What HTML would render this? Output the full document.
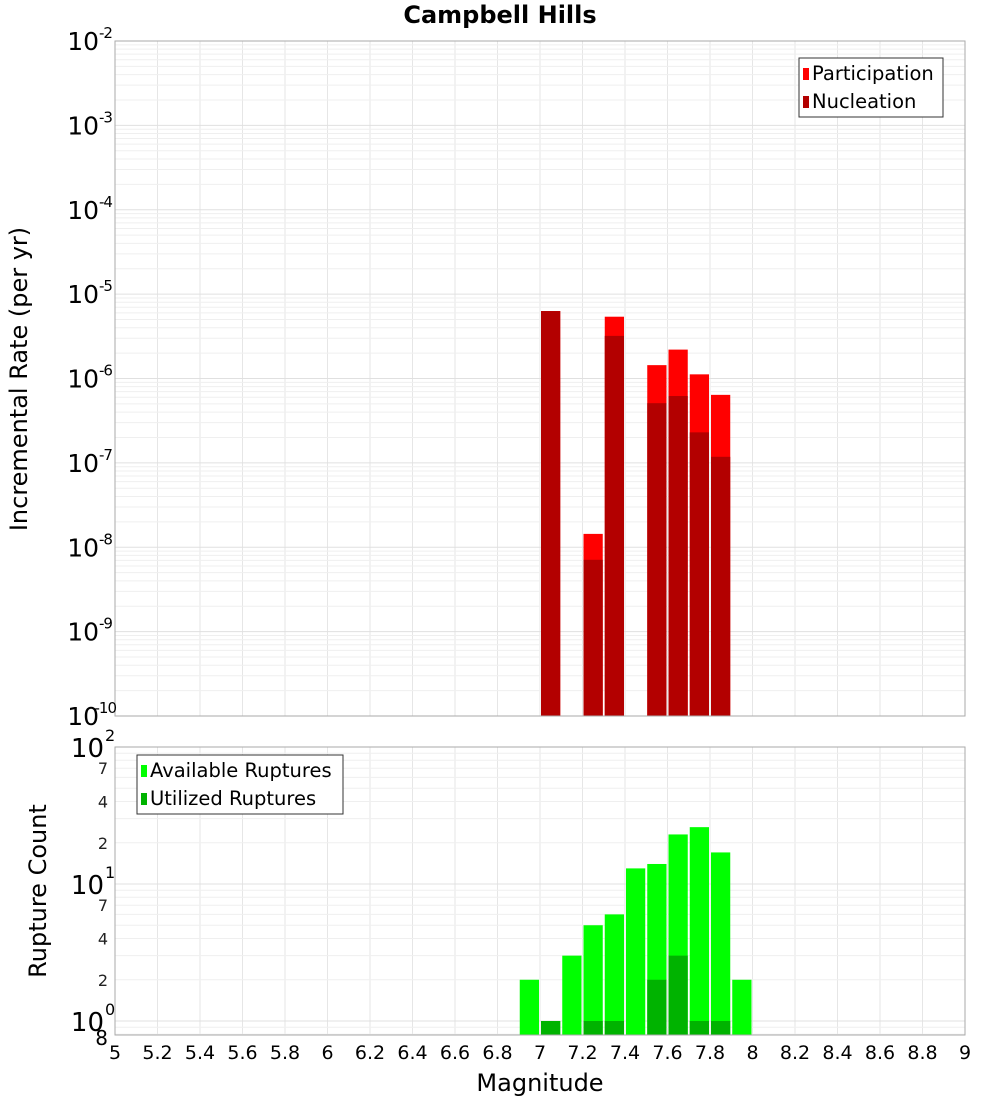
<!DOCTYPE html>
<html><head><meta charset="utf-8"><style>
body{margin:0;background:#fff;font-family:"Liberation Sans","DejaVu Sans",sans-serif}
svg text{font-family:"DejaVu Sans","Liberation Sans",sans-serif}
</style></head><body>
<svg id="c" width="1000" height="1100" xmlns="http://www.w3.org/2000/svg"></svg>
<script>
const mags=[7.05,7.25,7.35,7.55,7.65,7.75,7.85];
const participation=[6.3e-6,1.44e-8,5.4e-6,1.44e-6,2.2e-6,1.12e-6,6.4e-7];
const nucleation=[6.3e-6,7.1e-9,3.2e-6,5.1e-7,6.2e-7,2.3e-7,1.18e-7];
const countMags=[6.95,7.05,7.15,7.25,7.35,7.45,7.55,7.65,7.75,7.85,7.95];
const available=[2,1,3,5,6,13,14,23,26,17,2];
const utilized=[0,1,0,1,1,0,2,3,1,1,0];
const xTicks=[5,5.2,5.4,5.6,5.8,6,6.2,6.4,6.6,6.8,7,7.2,7.4,7.6,7.8,8,8.2,8.4,8.6,8.8,9];
const topExps=[-2,-3,-4,-5,-6,-7,-8,-9,-10];
const botMinor=[2,4,7,20,40,70];

const NS="http://www.w3.org/2000/svg";
const svg=document.getElementById('c');
function el(t,a,p){const e=document.createElementNS(NS,t);for(const k in a)e.setAttribute(k,a[k]);(p||svg).appendChild(e);return e;}
const L=115,R=965;
const T1=41,B1=716,T2=747,B2=1035;
const x=v=>L+(v-5)/4*(R-L);
const y1=v=>T1+(-2-Math.log10(v))/8*(B1-T1);
const dec2=137;
const y2=v=>T2+(2-Math.log10(v))*dec2;
const bw=(R-L)/40;

let bg=el('rect',{x:L,y:T1,width:R-L,height:B1-T1,fill:'#fff'});


bg=el('rect',{x:L,y:T2,width:R-L,height:B2-T2,fill:'#fff'});



for(const t of xTicks){
  let g=el('line',{x1:x(t),x2:x(t),y1:T1,y2:B1,stroke:'#e6e6e6'});
  
  g=el('line',{x1:x(t),x2:x(t),y1:T2,y2:B2,stroke:'#e6e6e6'});
  
}
for(let e=-10;e<-2;e++){for(let m=1;m<10;m++){const v=m*Math.pow(10,e);const yy=y1(v);
  const g=el('line',{x1:L,x2:R,y1:yy,y2:yy,stroke:m==1?'#e0e0e0':'#efefef'});
  }}
for(let e=-1;e<2;e++){for(let m=1;m<10;m++){const v=m*Math.pow(10,e);const yy=y2(v);if(yy>B2||yy<T2)continue;
  const g=el('line',{x1:L,x2:R,y1:yy,y2:yy,stroke:m==1?'#e0e0e0':'#efefef'});
  }}

mags.forEach((m,i)=>{
  let r=el('rect',{x:x(m)-bw/2+1,y:y1(participation[i]),width:bw-2,height:B1-y1(participation[i]),fill:'#ff0000'});
  
  r=el('rect',{x:x(m)-bw/2+1,y:y1(nucleation[i]),width:bw-2,height:B1-y1(nucleation[i]),fill:'#b30000'});
  
});
countMags.forEach((m,i)=>{
  let r=el('rect',{x:x(m)-bw/2+1,y:y2(available[i]),width:bw-2,height:B2-y2(available[i]),fill:'#00ff00'});
  
  if(utilized[i]>0){
  r=el('rect',{x:x(m)-bw/2+1,y:y2(utilized[i]),width:bw-2,height:B2-y2(utilized[i]),fill:'#00b300'});
  }
});

let b=el('rect',{x:L,y:T1,width:R-L,height:B1-T1,fill:'none',stroke:'#aaa'});

b=el('rect',{x:L,y:T2,width:R-L,height:B2-T2,fill:'none',stroke:'#aaa'});


for(const e of topExps){const yy=y1(Math.pow(10,e));
  const t=el('text',{x:99,y:yy+9,'text-anchor':'end','font-size':25,fill:'#000'});
  
  t.textContent='10';
  const s=el('text',{x:e<=-10?116:99,y:yy-3,'text-anchor':e<=-10?'end':'start','font-size':15,'letter-spacing':-1,fill:'#000'});
  
  s.textContent=String(e);
}
[0,1,2].forEach(e=>{const yy=y2(Math.pow(10,e));
  const t=el('text',{x:104,y:yy+10,'text-anchor':'end','font-size':26,fill:'#000'});
  
  t.textContent='10';
  const s=el('text',{x:105,y:yy-6,'font-size':16,fill:'#000'});
  
  s.textContent=String(e);
});
for(const v of botMinor){const yy=y2(v);
  const t=el('text',{x:108,y:yy+6,'text-anchor':'end','font-size':16,fill:'#222'});
  
  t.textContent=String(v%10==0?v/10:v);}
let t8=el('text',{x:108,y:B2+10,'text-anchor':'end','font-size':20,fill:'#000'});

t8.textContent='8';

for(const v of xTicks){
  const t=el('text',{x:x(v),y:1059,'text-anchor':'middle','font-size':19,fill:'#000'});
  
  t.textContent=String(v);}

let tt=el('text',{x:500,y:23,'text-anchor':'middle','font-size':24,'font-weight':'bold'});
tt.textContent='Campbell Hills';
tt=el('text',{x:540,y:1091,'text-anchor':'middle','font-size':24});
tt.textContent='Magnitude';
tt=el('text',{x:0,y:0,'text-anchor':'middle','font-size':24,transform:'translate(27,379) rotate(-90)'});
tt.textContent='Incremental Rate (per yr)';
tt=el('text',{x:0,y:0,'text-anchor':'middle','font-size':24,transform:'translate(46,891) rotate(-90)'});
tt.textContent='Rupture Count';

function legend(x0,y0,w,items,name){
  const g=el('g',{});
  
  el('rect',{x:x0,y:y0,width:w,height:59,fill:'#fff',stroke:'#333'},g);
  items.forEach((it,i)=>{
    el('rect',{x:x0+4,y:y0+10+i*28,width:6,height:12,fill:it[1]},g);
    const t=el('text',{x:x0+13,y:y0+22+i*28,'font-size':19.5},g);t.textContent=it[0];
  });
}
legend(799,58,144,[['Participation','#ff0000'],['Nucleation','#b30000']],'top-legend');
legend(137,755,206,[['Available Ruptures','#00ff00'],['Utilized Ruptures','#00b300']],'bottom-legend');
</script>
</body></html>
